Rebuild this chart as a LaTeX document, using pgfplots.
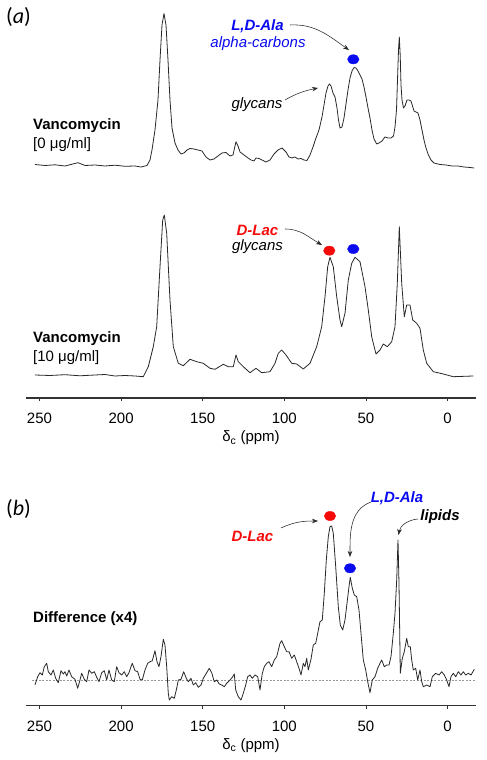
\documentclass[border=0pt]{standalone}
\usepackage{fontspec}
\setmainfont{Liberation Sans}
\newfontfamily\calibri{Carlito}
\usepackage{pgfplots}
\pgfplotsset{compat=1.18}
\usepackage{pgfplotstable}
\usetikzlibrary{arrows.meta}
\definecolor{myblue}{RGB}{10,10,240}
\definecolor{myred}{RGB}{245,10,10}
\definecolor{spec}{RGB}{40,40,40}
\newcommand{\fs}{\fontsize{15}{17}\selectfont}

\pgfplotstableread{
ppm int
252.76 0.5
246.63 -0.5
240.50 0.2
234.38 -1
226.41 2.3
222.12 -0.5
215.99 0
209.87 -1
203.74 -0.2
197.61 -1.3
191.48 -1
187.81 -2
184.13 -0.5
182.29 5
181.07 15
179.23 35
177.39 65
176.16 105
174.94 140
173.71 151.5
172.49 140
171.26 105
170.04 65
168.81 37
166.97 22
165.13 15
163.30 11
161.46 12
159.62 15
157.78 16.5
155.33 16
152.88 15
150.43 14
147.98 8
145.53 5
143.08 6
140.63 9
138.17 12
135.72 12.5
133.27 9
131.43 10
130.21 19
129.60 23.3
128.37 19
127.14 13
124.69 10
122.24 7
120.40 5
118.57 4
117.34 7
115.50 6.5
113.66 5
111.21 3
108.76 5
106.31 11
103.86 15
101.41 17
98.96 13
97.12 8
95.28 7
93.44 8
91.61 6
89.77 6.5
87.93 5
86.09 4.5
84.25 10
82.41 18
80.58 27
78.74 35
76.90 48
75.67 60
74.45 72
73.22 79
72.30 81
71.38 79
70.16 72
68.93 68
67.71 57
66.79 45
65.87 37
64.64 38
63.42 47
62.19 61
60.97 75
59.74 87
58.52 94
57.29 97.5
56.07 97
54.84 94
53.62 90
52.39 86
51.16 78
49.94 68
48.71 57
47.49 47
46.26 35
45.04 26
43.38 21
41.97 22
40.13 24
38.30 28
36.46 27
34.62 27
33.09 29
32.17 38
31.25 55
30.64 85
30.02 115
29.53 128
28.98 110
28.49 80
27.88 65
26.96 57
26.04 59
24.82 65
23.59 65
22.37 64
21.45 59
20.53 54
19.30 53
18.08 52
16.85 45
15.63 35
14.40 25
13.17 17
11.95 11
10.11 5
8.27 2
4.60 0.5
0.92 0
-2.76 -1
-6.43 -1
-10.11 -2
-13.79 -2.5
-16.24 -3
}\vanczero

\pgfplotstableread{
ppm int
252.76 0
243.57 -0.5
234.38 0.3
225.18 -0.8
215.99 0
209.87 0.5
203.74 -1
197.61 -0.5
191.48 -1
186.40 -1.7
183.33 8.3
180.27 28.3
178.19 48.3
176.16 108.3
174.51 155
173.53 160
172.06 141.7
170.04 75
168.01 28.3
164.95 11.7
161.89 9.3
157.78 15.7
153.68 13.3
149.63 11.7
145.53 6.7
142.46 5.7
137.38 10.7
134.31 8.3
131.25 8.3
129.60 20
128.19 13.3
125.12 8.3
121.02 2.3
117.34 6.7
113.85 2.3
108.76 3.3
105.70 11.7
103.68 21.7
101.59 25
98.96 20
95.47 11.7
92.40 11
88.36 6
84.25 11.7
80.15 28.3
77.08 48.3
75.06 78.3
73.41 108.3
72.00 117.7
69.98 108.3
67.89 78.3
65.87 55
64.83 48.3
62.81 61.7
60.78 95
58.70 111.7
56.68 117.7
53.62 113.3
50.55 88.3
48.53 65
46.45 38.3
43.81 21
41.36 25
39.34 31
36.89 28.3
34.19 33.3
32.17 48.3
30.76 91.7
29.53 148.3
28.06 91.7
26.47 58.3
25.00 70
22.98 70
21.32 55
18.87 51.7
16.85 46.7
14.83 25
12.75 11.7
8.70 3.3
2.57 1
-3.55 -1.7
-15.81 -1
}\vancten

\pgfplotstableread{
ppm int
252.76 -5
251.10 3.3
249.69 7.3
248.28 5
247.06 13.3
245.59 16.7
244.61 8.3
242.95 5
241.54 10
240.07 1.7
238.48 -2.7
236.83 9.3
235.42 6
234.38 8.3
233.33 4
231.93 10
230.27 3.3
228.25 0.7
226.59 -8.3
225.18 0
224.14 6.7
222.55 0.7
221.08 -1.7
219.67 10
218.01 6.7
216.42 8.3
214.95 2.7
213.54 -1.7
211.89 7.3
210.29 9.3
208.82 0
207.41 10
205.76 0
204.17 -1.7
202.70 13.3
201.29 7.3
199.63 5
198.04 8.3
196.57 3.3
195.16 7.3
193.93 13.3
193.14 16.7
191.48 9.3
189.83 8.3
188.42 0.7
187.01 0
185.36 10
183.70 16.7
182.29 18.3
180.88 19.3
179.23 29.3
178.00 18.3
176.78 13.3
175.55 23.3
174.14 40.7
173.10 35
172.06 13.3
171.08 -13.3
170.47 -20
169.00 -16.7
167.40 -18.3
165.93 -8.3
164.95 0
163.30 0.7
161.64 8.3
160.05 1.7
158.82 -1.7
157.17 1.7
155.76 -5
154.29 -2.7
152.70 -7.3
151.04 -5
149.63 1.7
147.55 7.3
145.96 11.7
144.49 7.3
142.89 -1.7
141.42 0
139.83 -4
138.36 -5
136.76 -6.7
135.29 -3.3
133.27 0
131.86 2.7
130.64 6
129.78 -10
128.19 -16.7
126.53 -20
125.12 -13.3
123.65 -5
122.43 3.3
121.02 5
119.61 1.7
117.95 5
116.30 3.3
114.89 -10
113.48 6.7
112.25 13.3
110.78 16.7
109.38 18.3
107.72 13.3
106.13 20
104.66 23.3
102.63 36.7
101.59 39.3
100.00 33.3
98.53 28.3
97.12 28.3
95.47 21.7
93.87 25
92.40 18.3
90.99 11.7
89.77 5
88.36 16.7
87.32 13.3
86.27 21.7
85.29 10
83.64 20.7
82.23 35
80.76 36.7
79.53 46.7
78.13 58.3
76.72 60
75.49 86.7
74.26 120
73.04 143.3
72.00 153.3
70.96 154
69.98 146.7
68.50 113.3
66.91 73.3
65.69 55
64.22 50
62.81 60
61.58 76.7
60.36 93.3
59.56 102.7
58.33 91.7
57.11 85
55.64 83.3
54.23 70
53.00 46.7
51.59 20
50.12 10
48.90 -1.7
47.49 -12.7
46.08 0
44.42 3.3
42.77 11.7
41.36 16.7
40.32 20
38.73 13.3
37.25 15
35.85 15
34.62 23.3
33.21 46.7
32.17 66.7
31.13 100
30.33 140
29.72 96.7
28.92 6.7
27.70 21.7
26.47 28.3
25.00 41.7
24.02 33.3
22.79 33.3
21.94 20
20.96 10
19.49 11.7
18.26 0
16.85 10
15.81 -1.7
14.83 -6.7
12.75 -5
10.72 -6.7
9.31 3.3
7.23 6.7
5.21 5
3.55 8.3
1.96 5
0.49 0
-0.92 -6.7
-2.14 3.3
-3.55 6.7
-5.02 3.3
-6.62 8.3
-8.27 5
-9.68 8.3
-11.15 5
-12.75 6.7
-14.40 5
-16.42 10.7
}\difference

\pgfplotsset{
  specaxis/.style={
    scale only axis, width=450pt,
    x dir=reverse, xmin=-17.46, xmax=258.27,
    axis x line=bottom, axis y line=none,
    x axis line style={-, line width=1.2pt, black!80},
    xtick={0,50,100,150,200,250},
    tick align=outside, major tick length=3.5pt,
    xtick style={line width=0.8pt, black!80},
    /pgf/number format/assume math mode=true,
    xticklabel style={font=\fs, anchor=center, yshift=-17pt},
    xlabel={δ\textsubscript{c} (ppm)},
    xlabel style={at={(axis description cs:0.5,0)}, anchor=center, yshift=-40pt, font=\fs},
    clip=false,
  },
  specline/.style={color=spec, line width=0.8pt, line join=round},
  dot/.style={only marks, mark=*, mark size=4.6pt, mark options={xscale=1.25}},
}

\begin{document}
\begin{tikzpicture}[font=\fs]
\useasboundingbox (0pt,0pt) rectangle (487pt,760pt);

% ---- panel (a)
\begin{axis}[specaxis, at={(26pt,362pt)}, anchor=south west, height=398pt, ymin=0, ymax=398]
  \addplot[specline] table[x=ppm, y expr=\thisrow{int}+233] {\vanczero};
  \addplot[specline] table[x=ppm, y expr=\thisrow{int}+23] {\vancten};
  \addplot[dot, color=myblue] coordinates {(57.72,338.7)};
  \addplot[dot, color=myred] coordinates {(72.43,147.3)};
  \addplot[dot, color=myblue] coordinates {(57.72,149)};
\end{axis}

% ---- panel (b)
\begin{axis}[specaxis, at={(26pt,54.5pt)}, anchor=south west, height=265.5pt, ymin=-25.5, ymax=240]
  \addplot[gray!80, line width=0.6pt, dash pattern=on 2pt off 1.5pt] coordinates {(254.6,0) (-16.85,0)};
  \addplot[specline] table[x=ppm, y=int] {\difference};
  \addplot[dot, color=myred] coordinates {(72.0,164)};
  \addplot[dot, color=myblue] coordinates {(59.74,111.7)};
\end{axis}

\tikzset{ann/.style={-{Stealth[length=6pt,width=4.5pt]}, line width=0.55pt, black!85}}

% annotations (a)
\node[font=\calibri\fontsize{22}{25}\selectfont, inner sep=0] at (18.5pt,743pt) {(\textit{a})};
\node[inner sep=0, text=myblue, font=\fs\bfseries\itshape] at (257.5pt,734pt) {L,D-Ala};
\node[inner sep=0, text=myblue, font=\fs\itshape] at (258pt,716pt) {alpha-carbons};
\draw[ann] (290pt,735pt) to[out=3,in=145] (349pt,710pt);
\node[inner sep=0, font=\fs\itshape] at (257pt,655pt) {glycans};
\draw[ann] (285pt,660pt) to[out=30,in=192] (318pt,672pt);
\node[inner sep=0, anchor=west, font=\fs\bfseries] at (33pt,634pt) {Vancomycin};
\node[inner sep=0, anchor=west] at (33pt,615pt) {[0 μg/ml]};

\node[inner sep=0, text=myred, font=\fs\bfseries\itshape] at (257.5pt,529.5pt) {D-Lac};
\node[inner sep=0, font=\fs\itshape] at (257.5pt,513pt) {glycans};
\draw[ann] (285pt,531pt) to[out=0,in=150] (322pt,515pt);
\node[inner sep=0, anchor=west, font=\fs\bfseries] at (33pt,421pt) {Vancomycin};
\node[inner sep=0, anchor=west] at (33pt,402.5pt) {[10 μg/ml]};

% annotations (b)
\node[font=\calibri\fontsize{22}{25}\selectfont, inner sep=0] at (18.5pt,251pt) {(\textit{b})};
\node[inner sep=0, text=myred, font=\fs\bfseries\itshape] at (252.5pt,224pt) {D-Lac};
\draw[ann] (281pt,232pt) to[out=25,in=180] (318pt,239pt);
\node[inner sep=0, text=myblue, font=\fs\bfseries\itshape] at (397pt,261.5pt) {L,D-Ala};
\draw[ann] (371pt,258pt) to[out=200,in=90] (350pt,203pt);
\node[inner sep=0, font=\fs\bfseries\itshape] at (440pt,243pt) {lipids};
\draw[ann] (418pt,241pt) to[out=185,in=80] (398.5pt,225pt);
\node[inner sep=0, anchor=west, font=\fs\bfseries] at (33pt,141.5pt) {Difference (x4)};
\end{tikzpicture}
\end{document}
